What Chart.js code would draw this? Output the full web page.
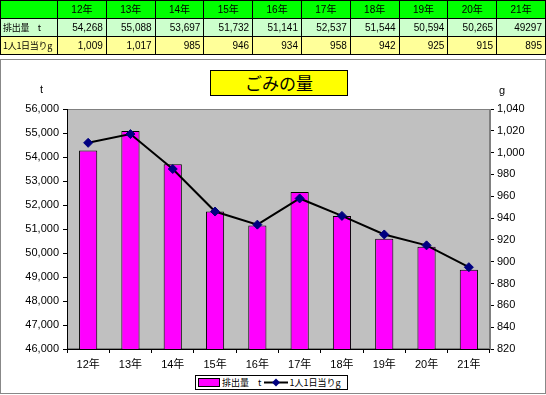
<!DOCTYPE html>
<html><head><meta charset="utf-8">
<script src="https://cdn.jsdelivr.net/npm/chart.js@4/dist/chart.umd.min.js"></script>
<style>
html,body{margin:0;padding:0;background:#fff;}
body{width:546px;height:395px;position:relative;overflow:hidden;font-family:"Liberation Sans","Noto Sans CJK JP",sans-serif;}
#tbl{position:absolute;left:0;top:0;border-collapse:collapse;table-layout:fixed;width:546px;font-size:10px;z-index:2;}
#tbl td{border:1px solid #000;padding:0 3px;height:17px;line-height:17px;white-space:nowrap;overflow:hidden;}
#tbl tr.h td{background:#00ff00;text-align:center;}
#tbl tr.r1 td{background:#ccffcc;text-align:right;}
#tbl tr.r2 td{background:#ffff99;text-align:right;}
#tbl td.lab{text-align:left !important;font:9px "Noto Sans CJK JP",sans-serif;padding:0 2px;letter-spacing:-0.3px;}
#frame{position:absolute;left:0;top:59px;width:544px;height:333px;border:1px solid #888;z-index:0;}
#c{position:absolute;left:0;top:0;z-index:1;}
#title{position:absolute;left:210px;top:70px;width:136px;height:24px;border:1px solid #000;background:#ffff00;text-align:center;font:17px/24px "Noto Sans CJK JP",sans-serif;color:#000;z-index:3;}
.ax{position:absolute;font:11px "Liberation Sans",sans-serif;color:#000;z-index:3;}
#legend{position:absolute;left:195px;top:375px;width:151px;height:13px;border:1px solid #000;background:#fff;z-index:3;font:9px/13px "Noto Sans CJK JP",sans-serif;color:#000;white-space:nowrap;}
#legend span{display:inline-block;vertical-align:top;}
</style></head>
<body>
<table id="tbl"></table>
<div id="frame"></div>
<canvas id="c" width="546" height="395"></canvas>
<div id="title">ごみの量</div>
<div class="ax" style="left:40px;top:83px;">t</div>
<div class="ax" style="left:499px;top:84px;">g</div>
<div id="legend"></div>
<script>
const categories = ["12年","13年","14年","15年","16年","17年","18年","19年","20年","21年"];
const waste = [54268,55088,53697,51732,51141,52537,51544,50594,50265,49297];
const wasteText = ["54,268","55,088","53,697","51,732","51,141","52,537","51,544","50,594","50,265","49297"];
const perCapita = [1009,1017,985,946,934,958,942,925,915,895];
const seriesNames = ["排出量　t","1人1日当りg"];
const leftTicks = {min:46000,max:56000,step:1000};
const rightTicks = {min:820,max:1040,step:20};

// table
const tbl = document.getElementById('tbl');
let cg = '<colgroup><col style="width:57px">' + categories.map(()=>'<col>').join('') + '</colgroup>';
let h = '<tr class="h"><td></td>' + categories.map(c=>'<td>'+c+'</td>').join('') + '</tr>';
let r1 = '<tr class="r1"><td class="lab">'+seriesNames[0]+'</td>' + wasteText.map(v=>'<td>'+v+'</td>').join('') + '</tr>';
let r2 = '<tr class="r2"><td class="lab">'+seriesNames[1]+'</td>' + perCapita.map(v=>'<td>'+v.toLocaleString('en-US')+'</td>').join('') + '</tr>';
tbl.innerHTML = cg + h + r1 + r2;

// legend
document.getElementById('legend').innerHTML =
 '<span style="width:20px;height:7px;background:#ff00ff;border:1px solid #000;margin:2px 2px 0 2px;"></span>' +
 '<span>'+seriesNames[0]+'</span>' +
 '<span style="margin:0 1px 0 3px;"><svg width="24" height="13"><line x1="0" y1="6.5" x2="24" y2="6.5" stroke="#000" stroke-width="2"/><polygon points="12,2.5 16,6.5 12,10.5 8,6.5" fill="#000080"/></svg></span>' +
 '<span>'+seriesNames[1]+'</span>';

const bgPlugin = {
  id:'bg',
  beforeDraw(chart){
    const a = chart.chartArea, ctx = chart.ctx;
    ctx.save();
    ctx.fillStyle = '#c0c0c0';
    ctx.fillRect(a.left, a.top, a.right-a.left, a.bottom-a.top);
    ctx.strokeStyle = '#808080';
    ctx.lineWidth = 1;
    ctx.strokeRect(a.left+0.5, a.top+0.5, a.right-a.left-1, a.bottom-a.top-1);
    ctx.restore();
  }
};

const tickFont = {family:'"Liberation Sans","Noto Sans CJK JP",sans-serif', size:11};
new Chart(document.getElementById('c'), {
  type:'bar',
  data:{
    labels:categories,
    datasets:[
      {type:'line', label:seriesNames[1], data:perCapita, yAxisID:'y1', borderColor:'#000', borderWidth:2,
       pointStyle:'rectRot', pointRadius:4.5, pointBackgroundColor:'#000080', pointBorderColor:'#000080', pointBorderWidth:1, tension:0, order:0},
      {type:'bar', label:seriesNames[0], data:waste, yAxisID:'y', backgroundColor:'#ff00ff', borderColor:'#000', borderWidth:1,
       categoryPercentage:1, barPercentage:0.43, order:1}
    ]
  },
  options:{
    responsive:false, animation:false, events:[],
    layout:{padding:{top:109,left:0,right:0,bottom:0}},
    plugins:{legend:{display:false}, title:{display:false}, tooltip:{enabled:false}},
    scales:{
      x:{
        grid:{drawOnChartArea:false, drawTicks:true, tickLength:4, color:'#000', offset:true},
        border:{color:'#000'},
        ticks:{color:'#000', font:tickFont, padding:5, maxRotation:0},
        afterFit(s){ s.height = 46; }
      },
      y:{
        position:'left', min:leftTicks.min, max:leftTicks.max,
        grid:{drawOnChartArea:false, tickLength:4, color:'#000'},
        border:{color:'#000'},
        ticks:{stepSize:leftTicks.step, color:'#000', font:tickFont, padding:4, callback:v=>v.toLocaleString('en-US')},
        afterFit(s){ s.width = 67; }
      },
      y1:{
        position:'right', min:rightTicks.min, max:rightTicks.max,
        grid:{drawOnChartArea:false, tickLength:4, color:'#000'},
        border:{color:'#808080'},
        ticks:{stepSize:rightTicks.step, color:'#000', font:tickFont, padding:3, callback:v=>v.toLocaleString('en-US')},
        afterFit(s){ s.width = 56; }
      }
    }
  },
  plugins:[bgPlugin]
});
</script>
</body></html>
